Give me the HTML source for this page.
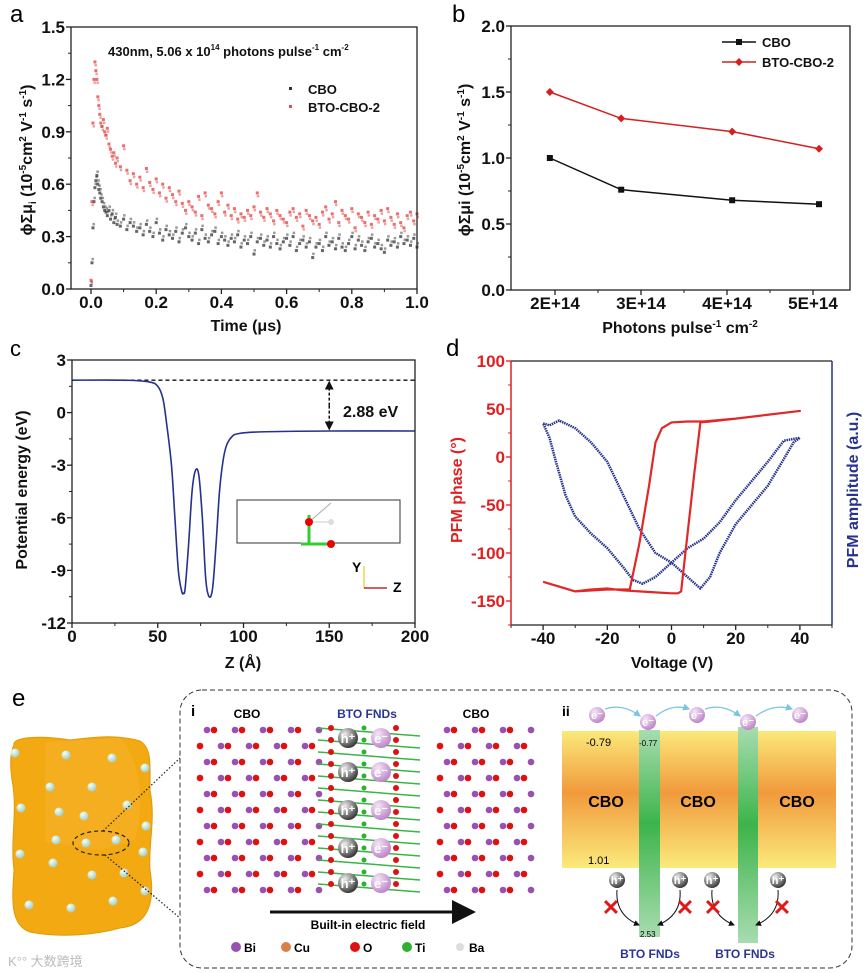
<!DOCTYPE html>
<html><head><meta charset="utf-8"><style>
html,body{margin:0;padding:0;background:#fff;}
svg{display:block;font-family:"Liberation Sans",Arial,sans-serif;}
.t{font-weight:bold;font-size:16px;fill:#111;}
.lab{font-size:13px;font-weight:bold;fill:#111;}
</style></head><body>
<svg id="fig" width="866" height="973" viewBox="0 0 866 973" xmlns="http://www.w3.org/2000/svg">
<defs>
<linearGradient id="cboGrad" x1="0" y1="0" x2="0" y2="1">
<stop offset="0" stop-color="#fbe97a"/><stop offset="0.45" stop-color="#f19a3c"/><stop offset="1" stop-color="#fbea7c"/></linearGradient>
<linearGradient id="btoGrad" x1="0" y1="0" x2="0" y2="1">
<stop offset="0" stop-color="#a8dcb0"/><stop offset="0.45" stop-color="#3cb44a"/><stop offset="1" stop-color="#a8dcb0"/></linearGradient>
<radialGradient id="hGrad" cx="0.35" cy="0.3" r="0.8"><stop offset="0" stop-color="#eee"/><stop offset="1" stop-color="#222"/></radialGradient>
<radialGradient id="eGrad" cx="0.35" cy="0.3" r="0.8"><stop offset="0" stop-color="#f4e6f6"/><stop offset="1" stop-color="#b87ac4"/></radialGradient>
<radialGradient id="dotGrad" cx="0.35" cy="0.3" r="0.8"><stop offset="0" stop-color="#f4fff8"/><stop offset="1" stop-color="#9cc8b8"/></radialGradient>
<marker id="arrK" markerWidth="8" markerHeight="8" refX="6" refY="4" orient="auto"><path d="M0,0 L8,4 L0,8 z" fill="#111"/></marker>
<marker id="arrS" markerWidth="6" markerHeight="6" refX="5" refY="3" orient="auto"><path d="M0,0 L6,3 L0,6 z" fill="#111"/></marker>
<marker id="arrB" markerWidth="6" markerHeight="6" refX="5" refY="3" orient="auto"><path d="M0,0 L6,3 L0,6 z" fill="#7cc4e0"/></marker>
</defs>

<text x="10" y="22" font-size="24">a</text>
<text x="452" y="22" font-size="24">b</text>
<text x="10" y="356" font-size="22">c</text>
<text x="446" y="356" font-size="24">d</text>
<text x="12" y="706" font-size="24">e</text>

<g id="pa"></g>
<g id="pb"></g>
<g id="pc"></g>
<g id="pd"></g>

<text class="t" transform="translate(32,160) rotate(-90)" text-anchor="middle">ϕΣμ<tspan font-size="10" dy="4">i</tspan><tspan dy="-4"> (10</tspan><tspan font-size="10" dy="-6">-5</tspan><tspan dy="6">cm</tspan><tspan font-size="10" dy="-6">2</tspan><tspan dy="6"> V</tspan><tspan font-size="10" dy="-6">-1</tspan><tspan dy="6"> s</tspan><tspan font-size="10" dy="-6">-1</tspan><tspan dy="6">)</tspan></text>
<text class="t" x="246" y="331" text-anchor="middle">Time (μs)</text>
<text class="lab" x="108" y="56">430nm, 5.06 x 10<tspan font-size="8" dy="-6">14</tspan><tspan dy="6"> photons pulse</tspan><tspan font-size="8" dy="-6">-1</tspan><tspan dy="6"> cm</tspan><tspan font-size="8" dy="-6">-2</tspan></text>
<rect x="289" y="87" width="3" height="3" fill="#333"/>
<text class="lab" x="308" y="94">CBO</text>
<rect x="289" y="105" width="3" height="3" fill="#e05050"/>
<text class="lab" x="308" y="112">BTO-CBO-2</text>

<text class="t" transform="translate(470,160) rotate(-90)" text-anchor="middle">ϕΣμi (10<tspan font-size="10" dy="-6">-5</tspan><tspan dy="6">cm</tspan><tspan font-size="10" dy="-6">2</tspan><tspan dy="6"> V</tspan><tspan font-size="10" dy="-6">-1</tspan><tspan dy="6"> s</tspan><tspan font-size="10" dy="-6">-1</tspan><tspan dy="6">)</tspan></text>
<text class="t" x="680" y="333" text-anchor="middle">Photons pulse<tspan font-size="10" dy="-6">-1</tspan><tspan dy="6"> cm</tspan><tspan font-size="10" dy="-6">-2</tspan></text>
<line x1="722" y1="42" x2="756" y2="42" stroke="#111" stroke-width="1.5"/>
<rect x="736" y="39" width="6" height="6" fill="#111"/>
<text class="lab" x="762" y="47">CBO</text>
<line x1="722" y1="62" x2="756" y2="62" stroke="#d42020" stroke-width="1.5"/>
<path d="M739,58 L743,62 L739,66 L735,62 z" fill="#d42020"/>
<text class="lab" x="762" y="67">BTO-CBO-2</text>

<text class="t" transform="translate(27,490) rotate(-90)" text-anchor="middle">Potential energy (eV)</text>
<text class="t" x="243" y="668" text-anchor="middle">Z (Å)</text>
<text class="t" x="343" y="417" font-size="17">2.88 eV</text>
<g>
<rect x="237" y="500" width="163" height="43" fill="none" stroke="#333" stroke-width="1"/>
<line x1="309" y1="522" x2="331" y2="503" stroke="#aaa"/><line x1="309" y1="522" x2="331" y2="522" stroke="#ccc"/>
<line x1="309" y1="545" x2="309" y2="515" stroke="#3c3" stroke-width="3"/><line x1="301" y1="544" x2="331" y2="544" stroke="#3c3" stroke-width="3"/>
<circle cx="309" cy="522" r="4" fill="#e00"/><circle cx="331" cy="544" r="4" fill="#e00"/><circle cx="331" cy="522" r="3" fill="#ddd"/>
<line x1="364" y1="588" x2="364" y2="566" stroke="#e8d020" stroke-width="1.2"/><line x1="364" y1="588" x2="387" y2="588" stroke="#a00" stroke-width="1.2"/>
<text x="352" y="572" font-size="14" font-weight="bold">Y</text><text x="393" y="592" font-size="14" font-weight="bold">Z</text>
</g>

<text class="t" transform="translate(462,490) rotate(-90)" text-anchor="middle" style="fill:#e02020">PFM phase (°)</text>
<text class="t" transform="translate(858,490) rotate(-90)" text-anchor="middle" style="fill:#27328c">PFM amplitude (a.u.)</text>
<text class="t" x="672" y="668" text-anchor="middle">Voltage (V)</text>

<g>
<path d="M14,745 C12,737 40,735 70,740 C95,737 115,734 140,741 C152,748 150,765 150,790 C156,820 148,845 150,870 C155,900 150,925 120,928 C95,935 60,938 30,932 C10,925 12,900 14,870 C10,840 18,810 12,780 C10,765 10,752 14,745 z" fill="#f2a912" stroke="#e09a08"/>
<path d="M45,742 L120,738 C140,760 145,800 135,840 L100,850 L45,842 z" fill="#f6b32a" opacity="0.6"/>
<g id="blobDots"></g>
<ellipse cx="101" cy="843" rx="28" ry="12" fill="none" stroke="#222" stroke-dasharray="4,3" stroke-width="1.2"/>
<line x1="103" y1="831" x2="180" y2="758" stroke="#222" stroke-dasharray="1.5,2" stroke-width="1.2"/>
<line x1="105" y1="855" x2="180" y2="918" stroke="#222" stroke-dasharray="1.5,2" stroke-width="1.2"/>
</g>
<rect x="180" y="690" width="672" height="278" rx="22" fill="none" stroke="#333" stroke-dasharray="5,3" stroke-width="1"/>
<text x="191" y="716" font-size="15" font-weight="bold">i</text>
<text x="247" y="718" font-size="12" font-weight="bold" text-anchor="middle">CBO</text>
<text x="367" y="718" font-size="12" font-weight="bold" text-anchor="middle" fill="#2a3590">BTO FNDs</text>
<text x="476" y="718" font-size="12" font-weight="bold" text-anchor="middle">CBO</text>
<g id="lattice"></g>
<line x1="270" y1="912" x2="470" y2="912" stroke="#111" stroke-width="3" marker-end="url(#arrK)"/>
<text x="368" y="929" font-size="12" font-weight="bold" text-anchor="middle">Built-in electric field</text>
<g font-size="12" font-weight="bold">
<circle cx="236" cy="947" r="5" fill="#9b4fb0"/><text x="244" y="952">Bi</text>
<circle cx="286" cy="947" r="5" fill="#d9804a"/><text x="294" y="952">Cu</text>
<circle cx="355" cy="947" r="5" fill="#e01010"/><text x="363" y="952">O</text>
<circle cx="407" cy="947" r="5" fill="#30b030"/><text x="415" y="952">Ti</text>
<circle cx="460" cy="947" r="4" fill="#ddd"/><text x="469" y="952">Ba</text>
</g>

<text x="562" y="716" font-size="14" font-weight="bold">ii</text>
<g>
<rect x="562" y="731" width="77" height="137" fill="url(#cboGrad)"/>
<rect x="660" y="731" width="78" height="137" fill="url(#cboGrad)"/>
<rect x="758" y="731" width="78" height="137" fill="url(#cboGrad)"/>
<rect x="639" y="730" width="21" height="207" fill="url(#btoGrad)"/>
<rect x="738" y="727" width="20" height="216" fill="url(#btoGrad)"/>
<text x="606" y="807" font-size="16" font-weight="bold" text-anchor="middle">CBO</text>
<text x="698" y="807" font-size="16" font-weight="bold" text-anchor="middle">CBO</text>
<text x="797" y="807" font-size="16" font-weight="bold" text-anchor="middle">CBO</text>
<text x="586" y="746" font-size="11">-0.79</text>
<text x="639" y="746" font-size="8">-0.77</text>
<text x="588" y="864" font-size="11">1.01</text>
<text x="640" y="937" font-size="8">2.53</text>
<text x="650" y="958" font-size="12" font-weight="bold" fill="#2a3590" text-anchor="middle">BTO FNDs</text>
<text x="745" y="958" font-size="12" font-weight="bold" fill="#2a3590" text-anchor="middle">BTO FNDs</text>
<g id="carriers"></g>
</g>
<text x="8" y="966" font-size="13" fill="#bbb" font-family="'Liberation Sans','Noto Sans CJK SC',sans-serif">K°° 大数跨境</text>
</svg>
<script>
// ---------- Panel a data ----------
const timeA = [0,0.003,0.006,0.009,0.012,0.015,0.018,0.021,0.024,0.027,0.03,0.034,0.038,0.042,0.046,0.05,0.055,0.06,0.065,0.07,0.075,0.08,
0.09,0.10,0.11,0.12,0.13,0.14,0.15,0.16,0.17,0.18,0.19,0.20,0.21,0.22,0.23,0.24,0.25,0.26,0.27,0.28,0.29,0.30,0.31,0.32,0.33,0.34,0.35,0.36,0.37,0.38,
0.39,0.40,0.41,0.42,0.43,0.44,0.45,0.46,0.47,0.48,0.49,0.50,0.51,0.52,0.53,0.54,0.55,0.56,0.57,0.58,0.59,0.60,0.61,0.62,0.63,0.64,0.65,0.66,0.67,0.68,
0.69,0.70,0.71,0.72,0.73,0.74,0.75,0.76,0.77,0.78,0.79,0.80,0.81,0.82,0.83,0.84,0.85,0.86,0.87,0.88,0.89,0.90,0.91,0.92,0.93,0.94,0.95,0.96,0.97,0.98,0.99,1.00];
const cboA = [0.02,0.15,0.35,0.5,0.58,0.62,0.65,0.6,0.57,0.55,0.52,0.5,0.47,0.45,0.44,0.42,0.45,0.4,0.43,0.38,0.41,0.37,
0.36,0.4,0.34,0.38,0.36,0.33,0.35,0.31,0.37,0.33,0.3,0.38,0.32,0.28,0.34,0.31,0.29,0.33,0.27,0.32,0.35,0.3,0.28,0.32,0.26,0.34,0.29,0.27,0.31,0.33,
0.26,0.3,0.28,0.25,0.29,0.27,0.31,0.24,0.28,0.26,0.3,0.2,0.27,0.29,0.25,0.28,0.24,0.3,0.26,0.23,0.27,0.29,0.25,0.3,0.22,0.26,0.28,0.24,0.27,0.18,
0.24,0.26,0.22,0.3,0.25,0.27,0.23,0.29,0.24,0.22,0.26,0.3,0.23,0.28,0.25,0.22,0.27,0.29,0.24,0.26,0.23,0.21,0.28,0.25,0.27,0.24,0.3,0.26,0.28,0.25,0.29,0.24];
const btoA = [0.05,0.5,0.95,1.2,1.3,1.25,1.2,1.1,1.05,1.0,0.95,0.93,0.97,0.9,0.88,0.92,0.83,0.8,0.76,0.78,0.72,0.75,
0.7,0.82,0.68,0.62,0.66,0.6,0.64,0.58,0.69,0.61,0.57,0.63,0.55,0.6,0.52,0.58,0.54,0.5,0.56,0.49,0.45,0.5,0.47,0.44,0.53,0.42,0.55,0.48,0.46,0.43,
0.5,0.55,0.44,0.48,0.42,0.46,0.4,0.43,0.41,0.45,0.42,0.47,0.55,0.44,0.41,0.46,0.43,0.39,0.45,0.42,0.4,0.38,0.44,0.46,0.41,0.43,0.36,0.45,0.42,0.39,
0.41,0.37,0.44,0.47,0.4,0.43,0.5,0.38,0.45,0.42,0.4,0.46,0.35,0.43,0.41,0.38,0.44,0.37,0.42,0.4,0.45,0.39,0.46,0.41,0.37,0.43,0.38,0.35,0.42,0.44,0.39,0.43];
const ticksAx = ["0.0","0.2","0.4","0.6","0.8","1.0"];
const ticksAy = ["0.0","0.3","0.6","0.9","1.2","1.5"];
// ---------- Panel b data ----------
const photonsB = [1.94e14,2.77e14,4.06e14,5.07e14];
const cboB = [1.0,0.76,0.68,0.65];
const btoB = [1.5,1.3,1.2,1.07];
const ticksBx = ["2E+14","3E+14","4E+14","5E+14"];
const ticksBy = ["0.0","0.5","1.0","1.5","2.0"];
// ---------- Panel c data ----------
const zC = [0,30,45,50,53,55,58,60,62,64,65,66,68,70,72,74,76,78,80,82,84,86,88,90,93,97,110,150,200];
const eC = [1.85,1.85,1.75,1.5,0.8,-0.5,-3,-6,-9,-10.2,-10.3,-10,-7.5,-4.5,-3.3,-3.6,-6,-9.5,-10.5,-10,-7.5,-4.5,-2.8,-1.9,-1.4,-1.2,-1.1,-1.05,-1.05];
const ticksCx = ["0","50","100","150","200"];
const ticksCy = ["3","0","-3","-6","-9","-12"];
// ---------- Panel d data ----------
const vPhase = [-40,-35,-30,-25,-20,-15,-10,-5,0,2,3,5,7,9,12,20,30,40,40,30,20,10,5,0,-3,-5,-7,-10,-13,-20,-30,-40];
const phase = [-130,-135,-140,-138,-137,-139,-140,-141,-142,-142,-140,-80,-20,36,37,40,44,48,48,44,40,37,37,36,30,15,-30,-90,-138,-138,-140,-130];
const vAmp = [-40,-38,-35,-30,-25,-20,-15,-10,-5,0,5,9,12,15,20,25,30,35,38,40,40,35,30,25,20,15,10,5,0,-5,-9,-12,-15,-20,-25,-30,-33,-36,-38,-40];
const amp = [35,33,38,30,15,-5,-40,-75,-100,-110,-125,-137,-125,-100,-70,-50,-30,-2,15,20,20,17,-5,-25,-45,-68,-85,-95,-110,-125,-132,-128,-115,-95,-80,-62,-40,-5,20,35];
const ticksDx = ["-40","-20","0","20","40"];
const ticksDy = ["-150","-100","-50","0","50","100"];

const NS = "http://www.w3.org/2000/svg";
function mk(tag, attrs, parent){const e=document.createElementNS(NS,tag);for(const k in attrs)e.setAttribute(k,attrs[k]);parent.appendChild(e);return e;}
function lin(d0,d1,r0,r1){return v=>r0+(v-d0)*(r1-r0)/(d1-d0);}
function axisFrame(g,x0,y0,x1,y1,color){
  const r=mk('rect',{x:x0,y:y0,width:x1-x0,height:y1-y0,fill:'none',stroke:color||'#222','stroke-width':1.3},g);
  
  
}
function xTicks(g,vals,labels,sx,y,minor,color){
  vals.forEach((v,i)=>{
    const l=mk('line',{x1:sx(v),x2:sx(v),y1:y,y2:y+5,stroke:color||'#222','stroke-width':1.3},g);
    
    
    const t=mk('text',{x:sx(v),y:y+19,'text-anchor':'middle','font-size':17,'font-weight':'bold',fill:'#111'},g);
    t.textContent=labels[i];
    
    
  });
  (minor||[]).forEach(v=>{const l=mk('line',{x1:sx(v),x2:sx(v),y1:y,y2:y+3,stroke:color||'#222'},g);
    
    });
}
function yTicks(g,vals,labels,sy,x,minor,color,tcol){
  vals.forEach((v,i)=>{
    const l=mk('line',{x1:x-5,x2:x,y1:sy(v),y2:sy(v),stroke:color||'#222','stroke-width':1.3},g);
    
    
    const t=mk('text',{x:x-6,y:sy(v)+6,'text-anchor':'end','font-size':17,'font-weight':'bold',fill:tcol||'#111'},g);
    t.textContent=labels[i];
    
    
  });
  (minor||[]).forEach(v=>{const l=mk('line',{x1:x-3,x2:x,y1:sy(v),y2:sy(v),stroke:color||'#222'},g);
    
    });
}
function smooth(pts){
  let d='M'+pts[0][0]+','+pts[0][1];
  for(let i=0;i<pts.length-1;i++){
    const p0=pts[Math.max(0,i-1)],p1=pts[i],p2=pts[i+1],p3=pts[Math.min(pts.length-1,i+2)];
    const c1=[p1[0]+(p2[0]-p0[0])/6,p1[1]+(p2[1]-p0[1])/6],c2=[p2[0]-(p3[0]-p1[0])/6,p2[1]-(p3[1]-p1[1])/6];
    d+=' C'+c1+' '+c2+' '+p2;
  }
  return d;
}

(function(){
  const g=document.getElementById('pa');
  const sx=lin(0,1,91,417), sy=lin(0,1.5,289,27);
  xTicks(g,[0,0.2,0.4,0.6,0.8,1.0],ticksAx,sx,289,[0.1,0.3,0.5,0.7,0.9]);
  yTicks(g,[0,0.3,0.6,0.9,1.2,1.5],ticksAy,sy,71,[0.15,0.45,0.75,1.05,1.35]);
  timeA.forEach((t,i)=>{
    const r=mk('rect',{x:sx(t)-1.5,y:sy(cboA[i])-1.5,width:3,height:3,fill:'#333','fill-opacity':0.75},g);
    
    
    const r2=mk('rect',{x:sx(t)+1-1.5,y:sy(cboA[i]+0.02)-1.5,width:2.5,height:2.5,fill:'#555','fill-opacity':0.6},g);
    
    
  });
  timeA.forEach((t,i)=>{
    const r=mk('rect',{x:sx(t)-1.5,y:sy(btoA[i])-1.5,width:3,height:3,fill:'#e03030','fill-opacity':0.7},g);
    
    
    const r2=mk('rect',{x:sx(t)+1-1.5,y:sy(btoA[i]-0.02)-1.5,width:2.5,height:2.5,fill:'#e86060','fill-opacity':0.6},g);
    
    
  });
  axisFrame(g,71,27,417,289);
})();

(function(){
  const g=document.getElementById('pb');
  const sx=lin(2e14,5e14,555,813), sy=lin(0,2,290,26);
  xTicks(g,[2e14,3e14,4e14,5e14],ticksBx,sx,290,[2.5e14,3.5e14,4.5e14]);
  yTicks(g,[0,0.5,1,1.5,2],ticksBy,sy,511,[0.25,0.75,1.25,1.75]);
  [[cboB,'#111','cbo'],[btoB,'#d42020','bto']].forEach(([vals,col,nm])=>{
    const p=mk('polyline',{points:photonsB.map((x,i)=>sx(x)+','+sy(vals[i])).join(' '),fill:'none',stroke:col,'stroke-width':1.5},g);
    
    
    photonsB.forEach((x,i)=>{
      let m;
      if(nm==='cbo') m=mk('rect',{x:sx(x)-3,y:sy(vals[i])-3,width:6,height:6,fill:col},g);
      else m=mk('path',{d:`M${sx(x)},${sy(vals[i])-4} l4,4 l-4,4 l-4,-4 z`,fill:col},g);
      
      
    });
  });
  axisFrame(g,511,26,850,290);
})();

(function(){
  const g=document.getElementById('pc');
  const sx=lin(0,200,72,415), sy=lin(3,-12,360,623);
  xTicks(g,[0,50,100,150,200],ticksCx,sx,623,[25,75,125,175]);
  yTicks(g,[3,0,-3,-6,-9,-12],ticksCy,sy,72,[1.5,-1.5,-4.5,-7.5,-10.5]);
  const dl=mk('line',{x1:sx(30),x2:sx(200),y1:sy(eC[0]),y2:sy(eC[0]),stroke:'#111','stroke-dasharray':'4,3','stroke-width':1.3},g);
  
  
  const p=mk('path',{d:smooth(zC.map((z,i)=>[sx(z),sy(eC[i])])),fill:'none',stroke:'#25308f','stroke-width':1.6},g);
  
  
  const a1=mk('line',{x1:sx(150),x2:sx(150),y1:sy(0.4),y2:sy(eC[0])+2,stroke:'#111','stroke-dasharray':'3,2','stroke-width':1.5,'marker-end':'url(#arrS)'},g);
  
  
  const a2=mk('line',{x1:sx(150),x2:sx(150),y1:sy(0.4),y2:sy(-1.05)-2,stroke:'#111','stroke-dasharray':'3,2','stroke-width':1.5,'marker-end':'url(#arrS)'},g);
  
  
  axisFrame(g,72,360,415,623);
})();

(function(){
  const g=document.getElementById('pd');
  const sx=lin(-50,50,511,832), sy=lin(0,-150,457,601);
  const yTop=sy(100), yBot=sy(-175);
  const fr=mk('line',{x1:511,x2:832,y1:yTop,y2:yTop,stroke:'#222','stroke-width':1.3},g);
  
  
  const fb=mk('line',{x1:511,x2:832,y1:yBot,y2:yBot,stroke:'#222','stroke-width':1.3},g);
  
  
  const fl=mk('line',{x1:511,x2:511,y1:yTop,y2:yBot,stroke:'#e02020','stroke-width':1.5},g);
  
  
  const fR=mk('line',{x1:832,x2:832,y1:yTop,y2:yBot,stroke:'#27328c','stroke-width':1.5},g);
  
  
  xTicks(g,[-40,-20,0,20,40],ticksDx,sx,yBot,[-50,-30,-10,10,30,50]);
  yTicks(g,[-150,-100,-50,0,50,100],ticksDy,sy,511,[-175,-125,-75,-25,25,75],'#e02020','#e02020');
  const pa=mk('polyline',{points:vAmp.map((v,i)=>sx(v)+','+sy(amp[i])).join(' '),fill:'none',stroke:'#27328c','stroke-width':2.5,'stroke-dasharray':'1.5,0.8','stroke-linejoin':'round'},g);
  
  
  const pp=mk('polyline',{points:vPhase.map((v,i)=>sx(v)+','+sy(phase[i])).join(' '),fill:'none',stroke:'#e02828','stroke-width':2.2,'stroke-linejoin':'round'},g);
  
  
})();

(function(){
  const g=document.getElementById('blobDots');
  [[15,753],[66,755],[112,758],[145,768],[50,787],[92,787],[21,808],[59,812],[84,816],[127,805],[146,826],[56,840],[86,843],[116,840],[20,854],[53,863],[143,852],[92,875],[124,873],[145,891],[29,905],[71,908],[113,901]].forEach(p=>{
    const c=mk('circle',{cx:p[0],cy:p[1],r:4.5,fill:'url(#dotGrad)'},g);
    
    
  });
  const L=document.getElementById('lattice');
  [[200,312],[440,535]].forEach(([a,b])=>{
    for(let x=a;x<=b;x+=14){
      for(let y=730;y<=890;y+=16){
        const k=((x-a)/14+(y-730)/16)%2;
        const c=mk('circle',{cx:x+(k?0:7),cy:y,r:3.3,fill:k?'#e01010':'#9b4fb0'},L);
        
        
      }
    }
  });
  for(let y=728;y<=890;y+=12){
    const ln=mk('line',{x1:318,x2:420,y1:y,y2:y+8,stroke:'#3cb44a','stroke-width':1.5},L);
    
    
    const c=mk('circle',{cx:331,cy:y,r:3,fill:'#e01010'},L);
    
    
    const c2=mk('circle',{cx:364,cy:y,r:2.5,fill:'#30b030'},L);
    
    
    const c3=mk('circle',{cx:396,cy:y,r:3,fill:'#e01010'},L);
    
    
  }
  [738,772,810,848,883].forEach(y=>{
    const h=mk('circle',{cx:348,cy:y,r:10,fill:'url(#hGrad)'},L);
    
    
    const ht=mk('text',{x:348,y:y+5,'text-anchor':'middle','font-size':13,'font-weight':'bold',fill:'#fff'},L);ht.textContent='h⁺';
    
    
    const e=mk('circle',{cx:381,cy:y,r:10,fill:'url(#eGrad)'},L);
    
    
    const et=mk('text',{x:381,y:y+5,'text-anchor':'middle','font-size':13,'font-weight':'bold',fill:'#fff'},L);et.textContent='e⁻';
    
    
  });
  const C=document.getElementById('carriers');
  [[597,715],[648,722],[697,715],[748,722],[800,715]].forEach((p,i,arr)=>{
    if(i<arr.length-1){
      const q=arr[i+1];
      const a=mk('path',{d:`M${p[0]+8},${p[1]-6} Q${(p[0]+q[0])/2},${Math.min(p[1],q[1])-12} ${q[0]-8},${q[1]-6}`,fill:'none',stroke:'#7cc4e0','stroke-width':1.2,'marker-end':'url(#arrB)'},C);
      
      
    }
    const e=mk('circle',{cx:p[0],cy:p[1],r:8,fill:'url(#eGrad)'},C);
    
    
    const t=mk('text',{x:p[0],y:p[1]+4,'text-anchor':'middle','font-size':11,'font-weight':'bold',fill:'#fff'},C);t.textContent='e⁻';
    
    
  });
  [[617,611,1],[680,685,-1],[712,713,1],[778,782,-1]].forEach(([hx,xx,dir])=>{
    const h=mk('circle',{cx:hx,cy:880,r:8,fill:'url(#hGrad)'},C);
    
    
    const t=mk('text',{x:hx,y:884,'text-anchor':'middle','font-size':11,'font-weight':'bold',fill:'#fff'},C);t.textContent='h⁺';
    
    
    const a=mk('path',{d:`M${hx},${890} Q${hx-2*dir},${915} ${hx+22*dir},${925}`,fill:'none',stroke:'#111','stroke-width':1,'marker-end':'url(#arrS)'},C);
    
    
    const x=mk('text',{x:xx,y:915,'text-anchor':'middle','font-size':22,'font-weight':'bold',fill:'#e01818'},C);x.textContent='✕';
    
    
  });
})();
</script>
</body></html>
